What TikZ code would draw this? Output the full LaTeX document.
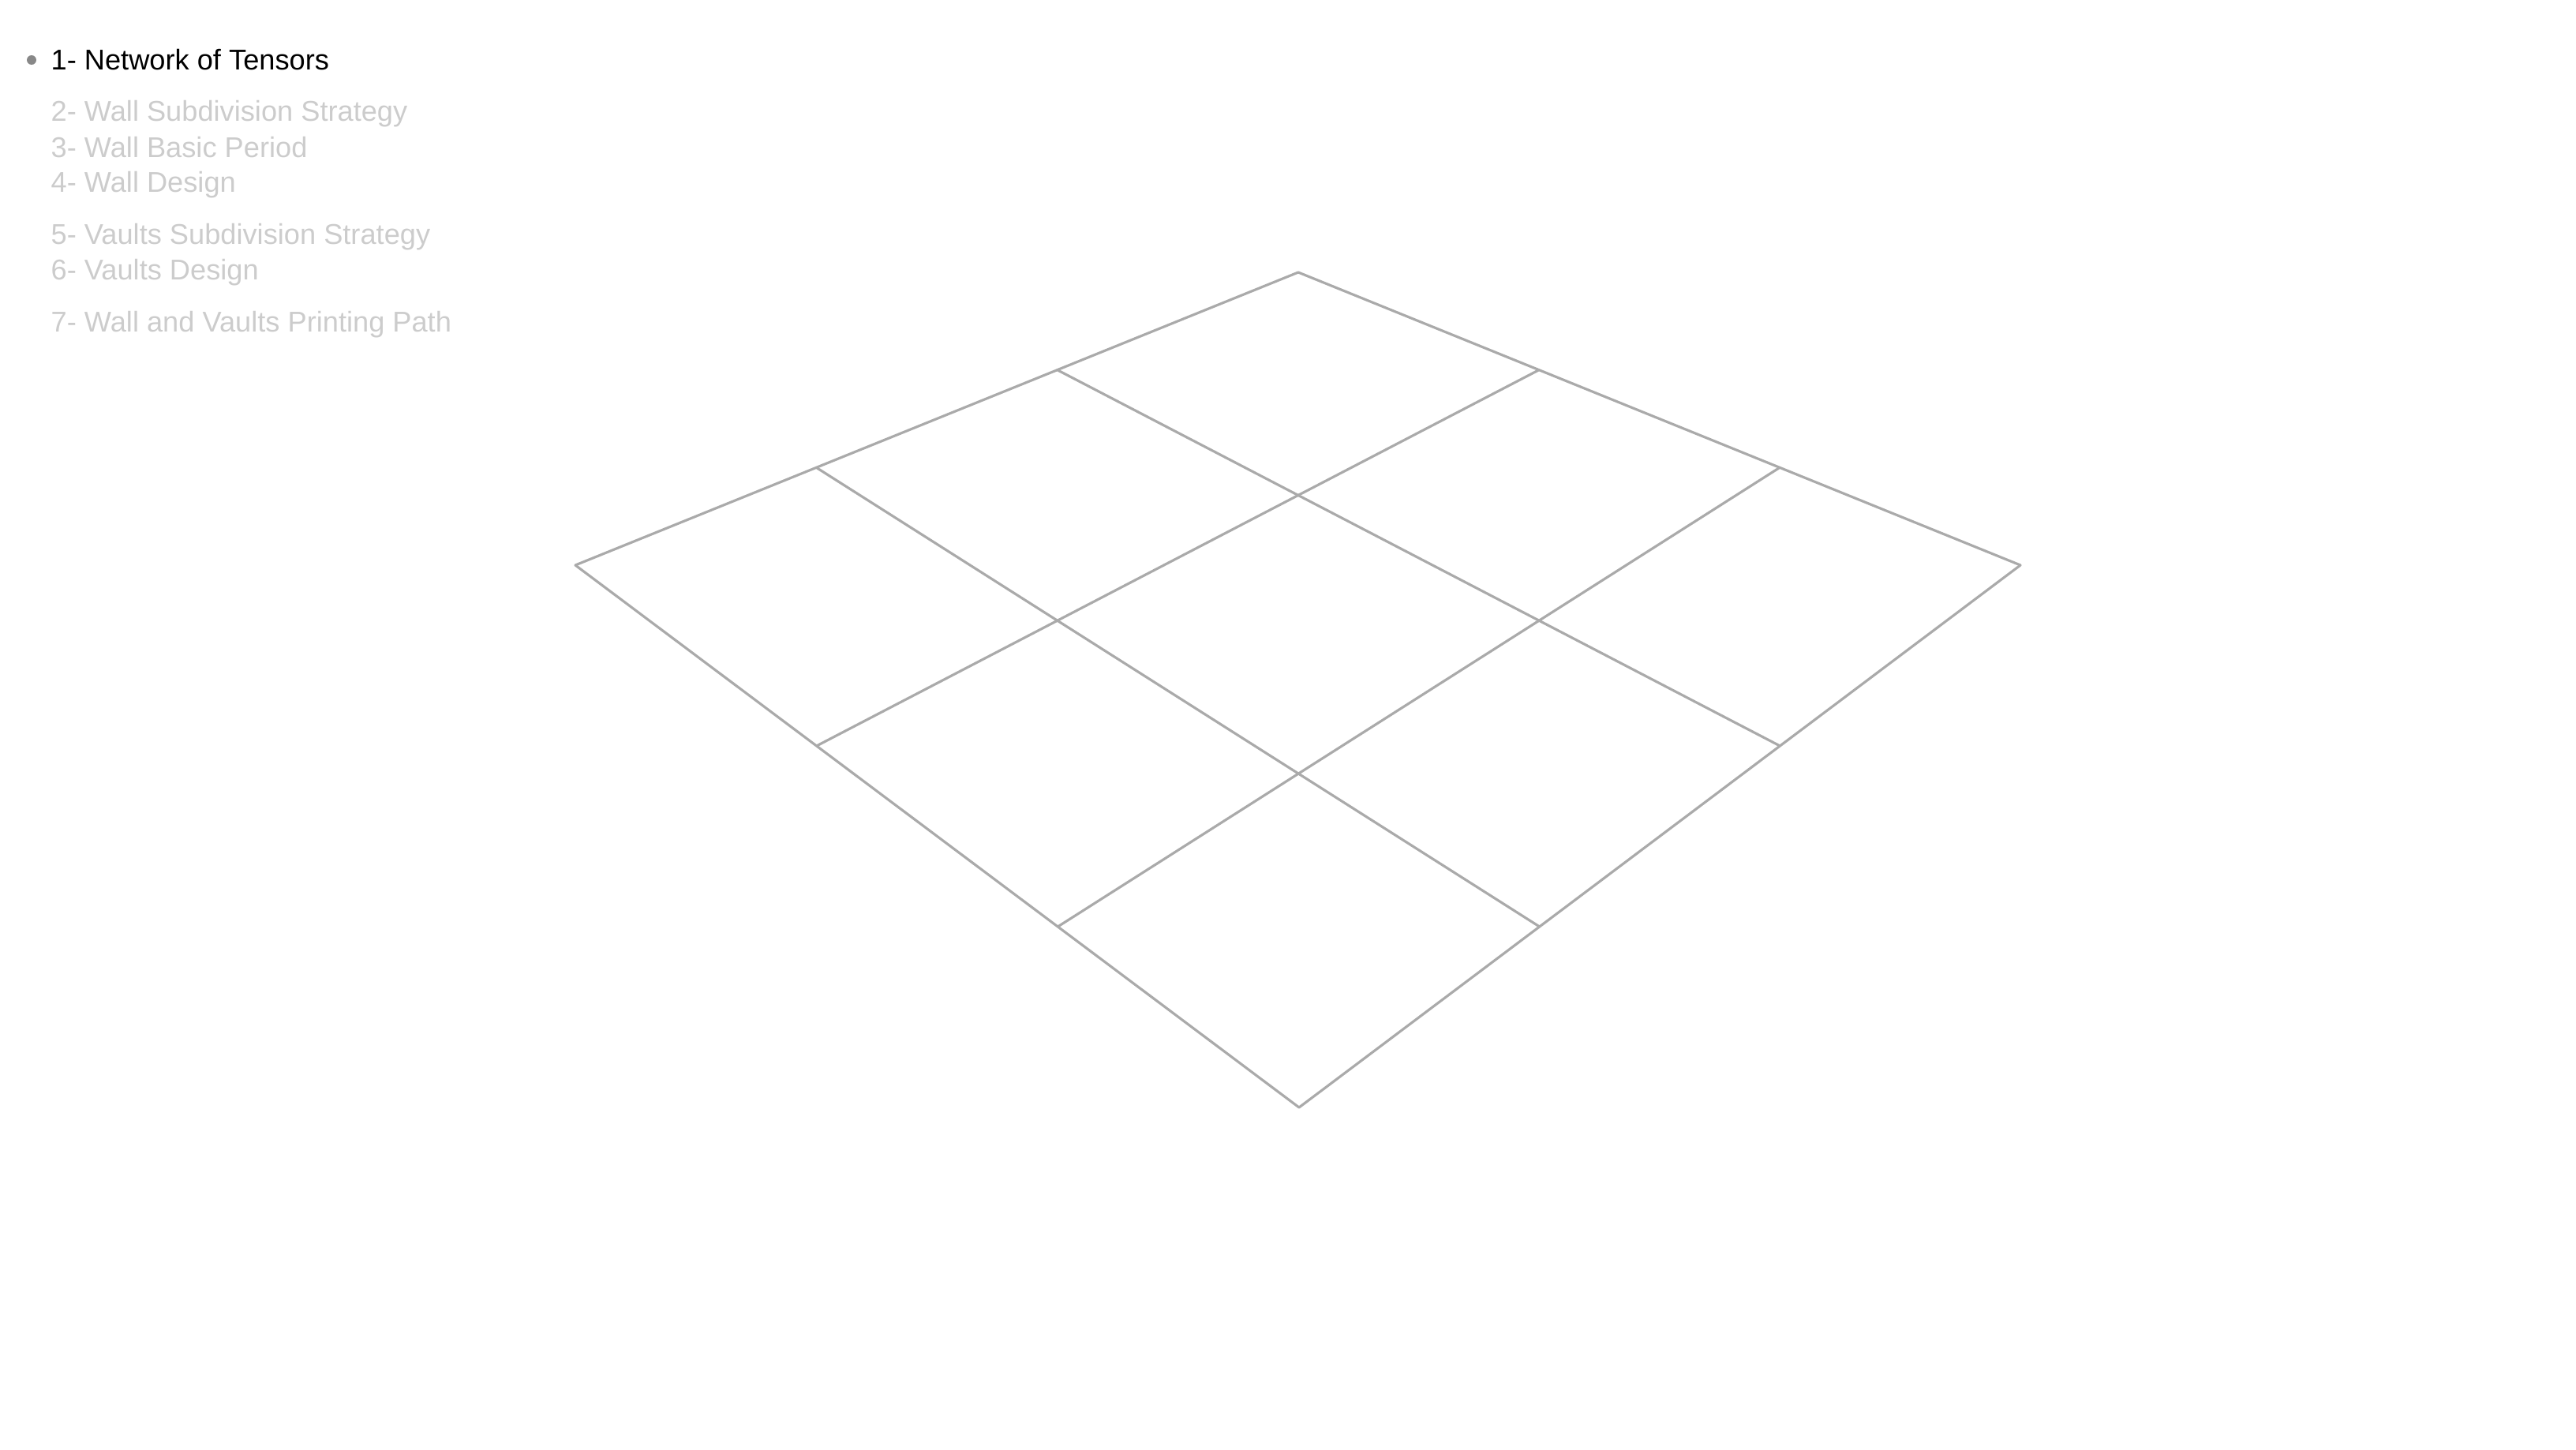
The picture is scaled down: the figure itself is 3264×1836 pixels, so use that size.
\documentclass[tikz,border=0pt]{standalone}
\usepackage{fontspec}
\setmainfont{Liberation Sans}
\usetikzlibrary{calc}

\definecolor{gridgray}{HTML}{AAAAAA}
\definecolor{fadedgray}{HTML}{CCCCCC}
\definecolor{bulletgray}{HTML}{888888}

\tikzset{
    menuitem/.style={anchor=base west, inner sep=0pt, font=\fontsize{10.3pt}{12pt}\selectfont},
    menudone/.style={menuitem, fadedgray},
    gridline/.style={gridgray, line width=0.9pt, line cap=round, line join=round}
}

\begin{document}
\begin{tikzpicture}[x=0.01cm, y=-0.01cm]
        % --- 1. Canvas ---
        \useasboundingbox (0,0) rectangle (3264,1836);
        \def\textX{64}

        % --- 2. Outline list ---
        \fill[bulletgray] (40,76) circle (6);
        \node[menuitem] (s1) at (\textX, 88) {1- Network of Tensors};
        \node[menudone] (s2) at (\textX, 153) {2- Wall Subdivision Strategy};
        \node[menudone] (s3) at (\textX, 199) {3- Wall Basic Period};
        \node[menudone] (s4) at (\textX, 243) {4- Wall Design};
        \node[menudone] (s5) at (\textX, 309) {5- Vaults Subdivision Strategy};
        \node[menudone] (s6) at (\textX, 354) {6- Vaults Design};
        \node[menudone] (s7) at (\textX, 420) {7- Wall and Vaults Printing Path};

        % --- 3. Tensor grid corners ---
        \coordinate (Top) at (1645, 345);
        \coordinate (Left) at (729, 716);
        \coordinate (Right) at (2560, 716);
        \coordinate (Bottom) at (1646, 1403);

        % --- 4. Grid lines ---
        \foreach \k in {0,1,2,3} {
            \coordinate (a\k) at ($(Top)!\k/3!(Left)$);
            \coordinate (b\k) at ($(Right)!\k/3!(Bottom)$);
            \coordinate (c\k) at ($(Top)!\k/3!(Right)$);
            \coordinate (d\k) at ($(Left)!\k/3!(Bottom)$);
            \draw[gridline] (a\k) -- (b\k);
            \draw[gridline] (c\k) -- (d\k);
        }
    \end{tikzpicture}
\end{document}
